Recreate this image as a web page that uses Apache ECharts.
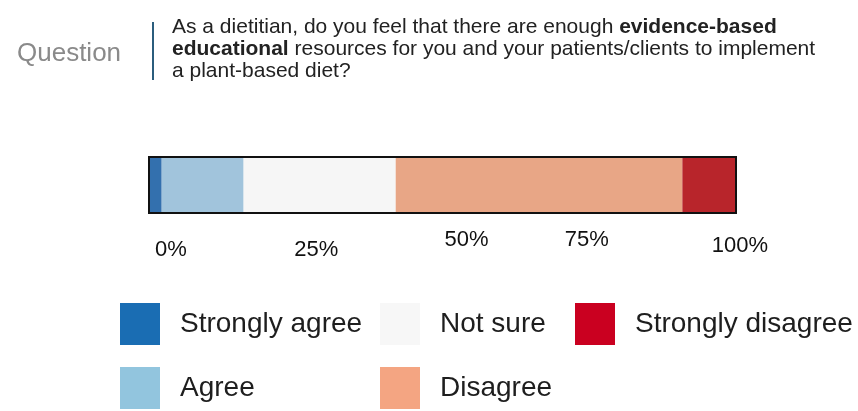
<!DOCTYPE html>
<html>
<head>
<meta charset="utf-8">
<style>
  html, body { margin: 0; padding: 0; background: #ffffff; }
  #chart { width: 858px; height: 411px; }
</style>
<script src="https://cdn.jsdelivr.net/npm/echarts@6/dist/echarts.min.js"></script>
</head>
<body>
<div id="chart"></div>
<script>
// Response categories, in stacking order from left to right
const categories = ['Strongly agree', 'Agree', 'Not sure', 'Disagree', 'Strongly disagree'];
// Share of respondents (%) for each category
const shares = [2, 14, 26, 49, 9];
// Percentage scale ticks
const tickValues = [0, 25, 50, 75, 100];
const tickLabels = ['0%', '25%', '50%', '75%', '100%'];

// Bar fill colours and legend swatch colours
const barColors = ['#3370ae', '#a1c4dc', '#f6f6f6', '#e8a686', '#b8252b'];
const swatchColors = ['#1a6db3', '#92c5de', '#f7f7f7', '#f4a582', '#ca0020'];

// Small per-label nudges for the percentage labels: [dx, dy]
const labelNudge = [[21, 5], [20, 5], [24, 0], [-2, 0], [5, 3]];

const FONT = '"Liberation Sans", Arial, Helvetica, sans-serif';

const rich = {};
tickLabels.forEach((t, i) => {
  const [dx, dy] = labelNudge[i];
  rich['t' + i] = {
    fontSize: 22,
    fontFamily: FONT,
    color: '#111',
    padding: [Math.max(dy, 0) * 2, Math.max(-dx, 0) * 2, 0, Math.max(dx, 0) * 2]
  };
});

const series = categories.map((name, i) => ({
  name: name,
  type: 'bar',
  stack: 'total',
  barWidth: '100%',
  barCategoryGap: 0,
  itemStyle: { color: barColors[i] },
  emphasis: { disabled: true },
  data: [shares[i]]
}));

// One legend block per entry, laid out in a 3 + 2 grid
const legendSlots = {
  'Strongly agree': [120, 303],
  'Not sure': [380, 303],
  'Strongly disagree': [575, 303],
  'Agree': [120, 367],
  'Disagree': [380, 367]
};
const legends = Object.keys(legendSlots).map(name => {
  const idx = categories.indexOf(name);
  return {
    left: legendSlots[name][0],
    top: legendSlots[name][1],
    padding: 0,
    itemWidth: 40,
    itemHeight: 42,
    icon: 'rect',
    selectedMode: false,
    textStyle: {
      fontSize: 28,
      fontFamily: FONT,
      color: '#1e1e1e',
      padding: [0, 0, 0, 15]
    },
    data: [{ name: name, itemStyle: { color: swatchColors[idx] } }]
  };
});

const chart = echarts.init(document.getElementById('chart'), null, { renderer: 'canvas' });
chart.setOption({
  backgroundColor: '#ffffff',
  animation: false,
  title: [
    {
      text: 'Question',
      left: 17,
      top: 41,
      padding: 0,
      textStyle: { fontSize: 26, fontWeight: 'normal', fontFamily: FONT, color: '#8a8a8a', lineHeight: 26 }
    },
    {
      text: 'As a dietitian, do you feel that there are enough {b|evidence-based}\n{b|educational} resources for you and your patients/clients to implement\na plant-based diet?',
      left: 172,
      top: 16,
      padding: 0,
      textStyle: {
        fontSize: 21,
        fontWeight: 'normal',
        fontFamily: FONT,
        color: '#222',
        lineHeight: 22,
        rich: {
          b: { fontSize: 21, fontWeight: 'bold', fontFamily: FONT, color: '#222', lineHeight: 22 }
        }
      }
    }
  ],
  legend: legends,
  grid: { left: 150, top: 158, width: 585, height: 54, containLabel: false },
  xAxis: {
    type: 'value',
    min: 0,
    max: 100,
    interval: 25,
    splitLine: { show: false },
    axisLine: { show: false },
    axisTick: { show: false },
    axisLabel: {
      margin: 17,
      formatter: function (v) {
        const i = tickValues.indexOf(v);
        return i < 0 ? '' : '{t' + i + '|' + tickLabels[i] + '}';
      },
      rich: rich
    }
  },
  yAxis: {
    type: 'category',
    data: ['response'],
    show: false
  },
  series: series,
  graphic: [
    {
      type: 'line',
      shape: { x1: 153, y1: 22, x2: 153, y2: 80 },
      style: { stroke: '#2b5d7d', lineWidth: 2 }
    },
    {
      type: 'rect',
      z: 100,
      shape: { x: 149, y: 157, width: 587, height: 56 },
      style: { fill: 'transparent', stroke: '#111', lineWidth: 2 }
    }
  ]
});
</script>
</body>
</html>
